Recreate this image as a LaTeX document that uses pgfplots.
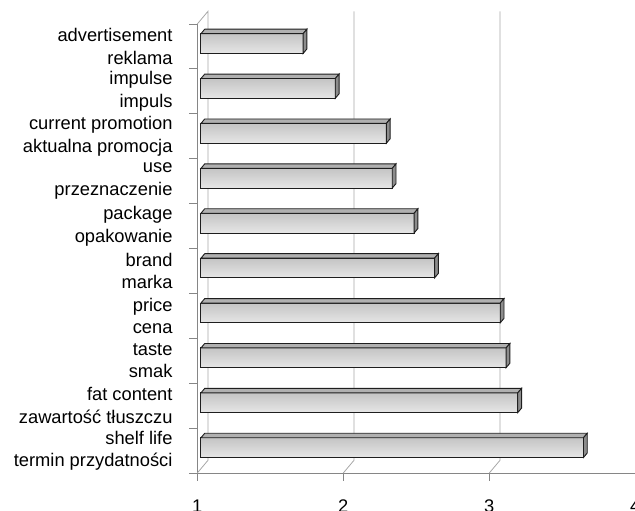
\documentclass[border=0pt]{standalone}
\usepackage{pgfplots}
\usepackage{pgfplotstable}
\pgfplotsset{compat=1.18}
\usepackage{fontspec}
\setmainfont{Liberation Sans}
\definecolor{axgray}{HTML}{868686}
\definecolor{gridgray}{HTML}{A8A8A8}
\definecolor{facetop}{HTML}{C4C4C4}
\definecolor{facebot}{HTML}{E6E6E6}
\definecolor{topgray}{HTML}{B0B0B0}
\definecolor{capgray}{HTML}{8C8C8C}
\definecolor{edge}{HTML}{1E1E1E}

% y = slot index (0 = bottom), v = mean value
\pgfplotstableread{
y v
0 3.62
1 3.17
2 3.09
3 3.05
4 2.60
5 2.46
6 2.31
7 2.27
8 1.92
9 1.70
}\bars

\begin{document}
\begin{tikzpicture}
\begin{axis}[
  at={(197.3pt,38pt)}, anchor=south west,
  scale only axis, width=438pt, height=449pt,
  xmin=1, xmax=4, ymin=0, ymax=10,
  clip=false,
  axis x line=bottom, axis y line=left,
  axis line style={axgray, line width=0.8pt, -},
  xtick={1,2,3,4},
  ytick={0,...,10},
  yticklabels={},
  extra y ticks={0.5,1.5,2.5,3.5,4.5,5.5,6.5,7.5,8.5,9.5},
  extra y tick labels={
    {shelf life\\termin przydatności},
    {fat content\\zawartość tłuszczu},
    {taste\\smak},
    {price\\cena},
    {brand\\marka},
    {package\\opakowanie},
    {use\\przeznaczenie},
    {current promotion\\aktualna promocja},
    {impulse\\impuls},
    {advertisement\\reklama}},
  extra y tick style={major tick length=0pt, yticklabel style={align=right, anchor=east, inner sep=0pt, xshift=-24.6pt, font=\fontsize{18.3}{22.5}\selectfont}},
  tick style={axgray, line width=0.8pt},
  tick align=outside,
  major tick length=8pt,
  /pgf/number format/assume math mode=true,
  xticklabel style={anchor=north, inner sep=0pt, yshift=-19pt, font=\fontsize{18.3}{22.5}\selectfont},
]
% 3D walls and grid lines
\addplot[gridgray, line width=0.8pt] coordinates {(1,0) (1.0733,0.283) (1.0733,10.283) (1,10)};
\addplot[gridgray, line width=0.8pt] coordinates {(2,0) (2.0733,0.283) (2.0733,10.283)};
\addplot[gridgray, line width=0.8pt] coordinates {(3,0) (3.0733,0.283) (3.0733,10.283)};
% bars
\pgfplotsinvokeforeach{0,...,9}{%
  \pgfplotstablegetelem{#1}{v}\of\bars
  \let\vv\pgfplotsretval
  \pgfmathsetmacro\yc{#1+0.565}
  \pgfmathsetmacro\yb{\yc-0.22}
  \pgfmathsetmacro\yt{\yc+0.22}
  \pgfmathsetmacro\ytt{\yt+0.1}
  \pgfmathsetmacro\ybt{\yb+0.1}
  \pgfmathsetmacro\xl{1.025}
  \pgfmathsetmacro\xr{\vv+0.025}
  \pgfmathsetmacro\xlt{\xl+0.026}
  \pgfmathsetmacro\xrt{\xr+0.026}
  \edef\doit{%
    \noexpand\addplot[draw=edge, line width=0.9pt, top color=facetop, bottom color=facebot] coordinates {(\xl,\yb) (\xr,\yb) (\xr,\yt) (\xl,\yt)} -- cycle;
    \noexpand\addplot[draw=edge, line width=0.9pt, fill=topgray] coordinates {(\xl,\yt) (\xr,\yt) (\xrt,\ytt) (\xlt,\ytt)} -- cycle;
    \noexpand\addplot[draw=edge, line width=0.9pt, fill=capgray] coordinates {(\xr,\yb) (\xrt,\ybt) (\xrt,\ytt) (\xr,\yt)} -- cycle;
  }\doit
}
\end{axis}
\pgfresetboundingbox
\path[use as bounding box] (0,0) rectangle (635pt,511pt);
\end{tikzpicture}
\end{document}
